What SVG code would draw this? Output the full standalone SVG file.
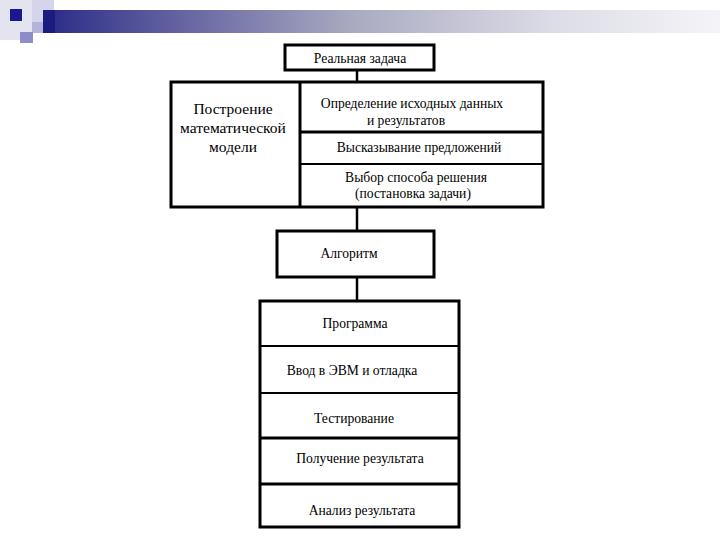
<svg xmlns="http://www.w3.org/2000/svg" width="720" height="540" viewBox="0 0 720 540">
<style>
.box{fill:#ffffff;stroke:#000000;stroke-width:3}
.div{stroke:#000000;stroke-width:2;fill:none}
.conn{stroke:#000000;stroke-width:2.5;fill:none}
text{font-family:"Liberation Serif","Times New Roman",serif;fill:#000000;text-anchor:middle;dominant-baseline:central}
.s{font-size:13.6px}
.l{font-size:15.5px}
</style>
<defs>
<linearGradient id="bar" x1="0" y1="0" x2="1" y2="0">
<stop offset="0" stop-color="#2a2a88"/>
<stop offset="0.15" stop-color="#55559a"/>
<stop offset="0.45" stop-color="#a8a8c0"/>
<stop offset="0.75" stop-color="#dcdce6"/>
<stop offset="1" stop-color="#f4f4f8"/>
</linearGradient>
</defs>
<rect width="720" height="540" fill="#ffffff"/>
<g id="decor">
<rect x="0" y="0" width="32" height="40" fill="#e4e4f0"/>
<rect x="32" y="0" width="22" height="22" fill="#d4d4ea"/>
<rect x="32" y="22" width="11" height="11" fill="#b4b4da"/>
<rect x="43" y="10" width="677" height="23" fill="url(#bar)"/>
<rect x="43" y="10" width="12" height="23" fill="#1c1c80"/>
<rect x="10" y="9" width="12" height="12" fill="#1a1a90"/>
<rect x="20" y="32" width="13" height="11" fill="#8c8cc8"/>
</g>
<g id="connectors">
<line class="conn" x1="357" y1="70" x2="357" y2="82"/>
<line class="conn" x1="357" y1="207" x2="357" y2="231"/>
<line class="conn" x1="357" y1="277" x2="357" y2="301"/>
</g>
<g id="real-task">
<rect class="box" x="285" y="45" width="149" height="25"/>
<text class="s" x="360" y="58">Реальная задача</text>
</g>
<g id="model">
<rect class="box" x="171" y="82" width="372" height="125"/>
<line class="box" x1="300" y1="82" x2="300" y2="207"/>
<line class="box" x1="300" y1="132" x2="543" y2="132"/>
<line class="div" x1="300" y1="164" x2="543" y2="164"/>
<text class="l" x="233" y="108">Построение</text>
<text class="l" x="233" y="127">математической</text>
<text class="l" x="233" y="146">модели</text>
<text class="s" x="412" y="103">Определение исходных данных</text>
<text class="s" x="406" y="120">и результатов</text>
<text class="s" x="419" y="147">Высказывание предложений</text>
<text class="s" x="416" y="177">Выбор способа решения</text>
<text class="s" x="413" y="193">(постановка задачи)</text>
</g>
<g id="algorithm">
<rect class="box" x="277" y="231" width="157" height="46"/>
<text class="s" x="349" y="253">Алгоритм</text>
</g>
<g id="program">
<rect class="box" x="260" y="301" width="199" height="226"/>
<line class="div" x1="260" y1="346" x2="459" y2="346"/>
<line class="div" x1="260" y1="393" x2="459" y2="393"/>
<line class="box" x1="260" y1="438" x2="459" y2="438"/>
<line class="box" x1="260" y1="484" x2="459" y2="484"/>
<text class="s" x="355" y="323">Программа</text>
<text class="s" x="352" y="370">Ввод в ЭВМ и отладка</text>
<text class="s" x="354" y="418">Тестирование</text>
<text class="s" x="360" y="458">Получение результата</text>
<text class="s" x="362" y="510">Анализ результата</text>
</g>
</svg>
